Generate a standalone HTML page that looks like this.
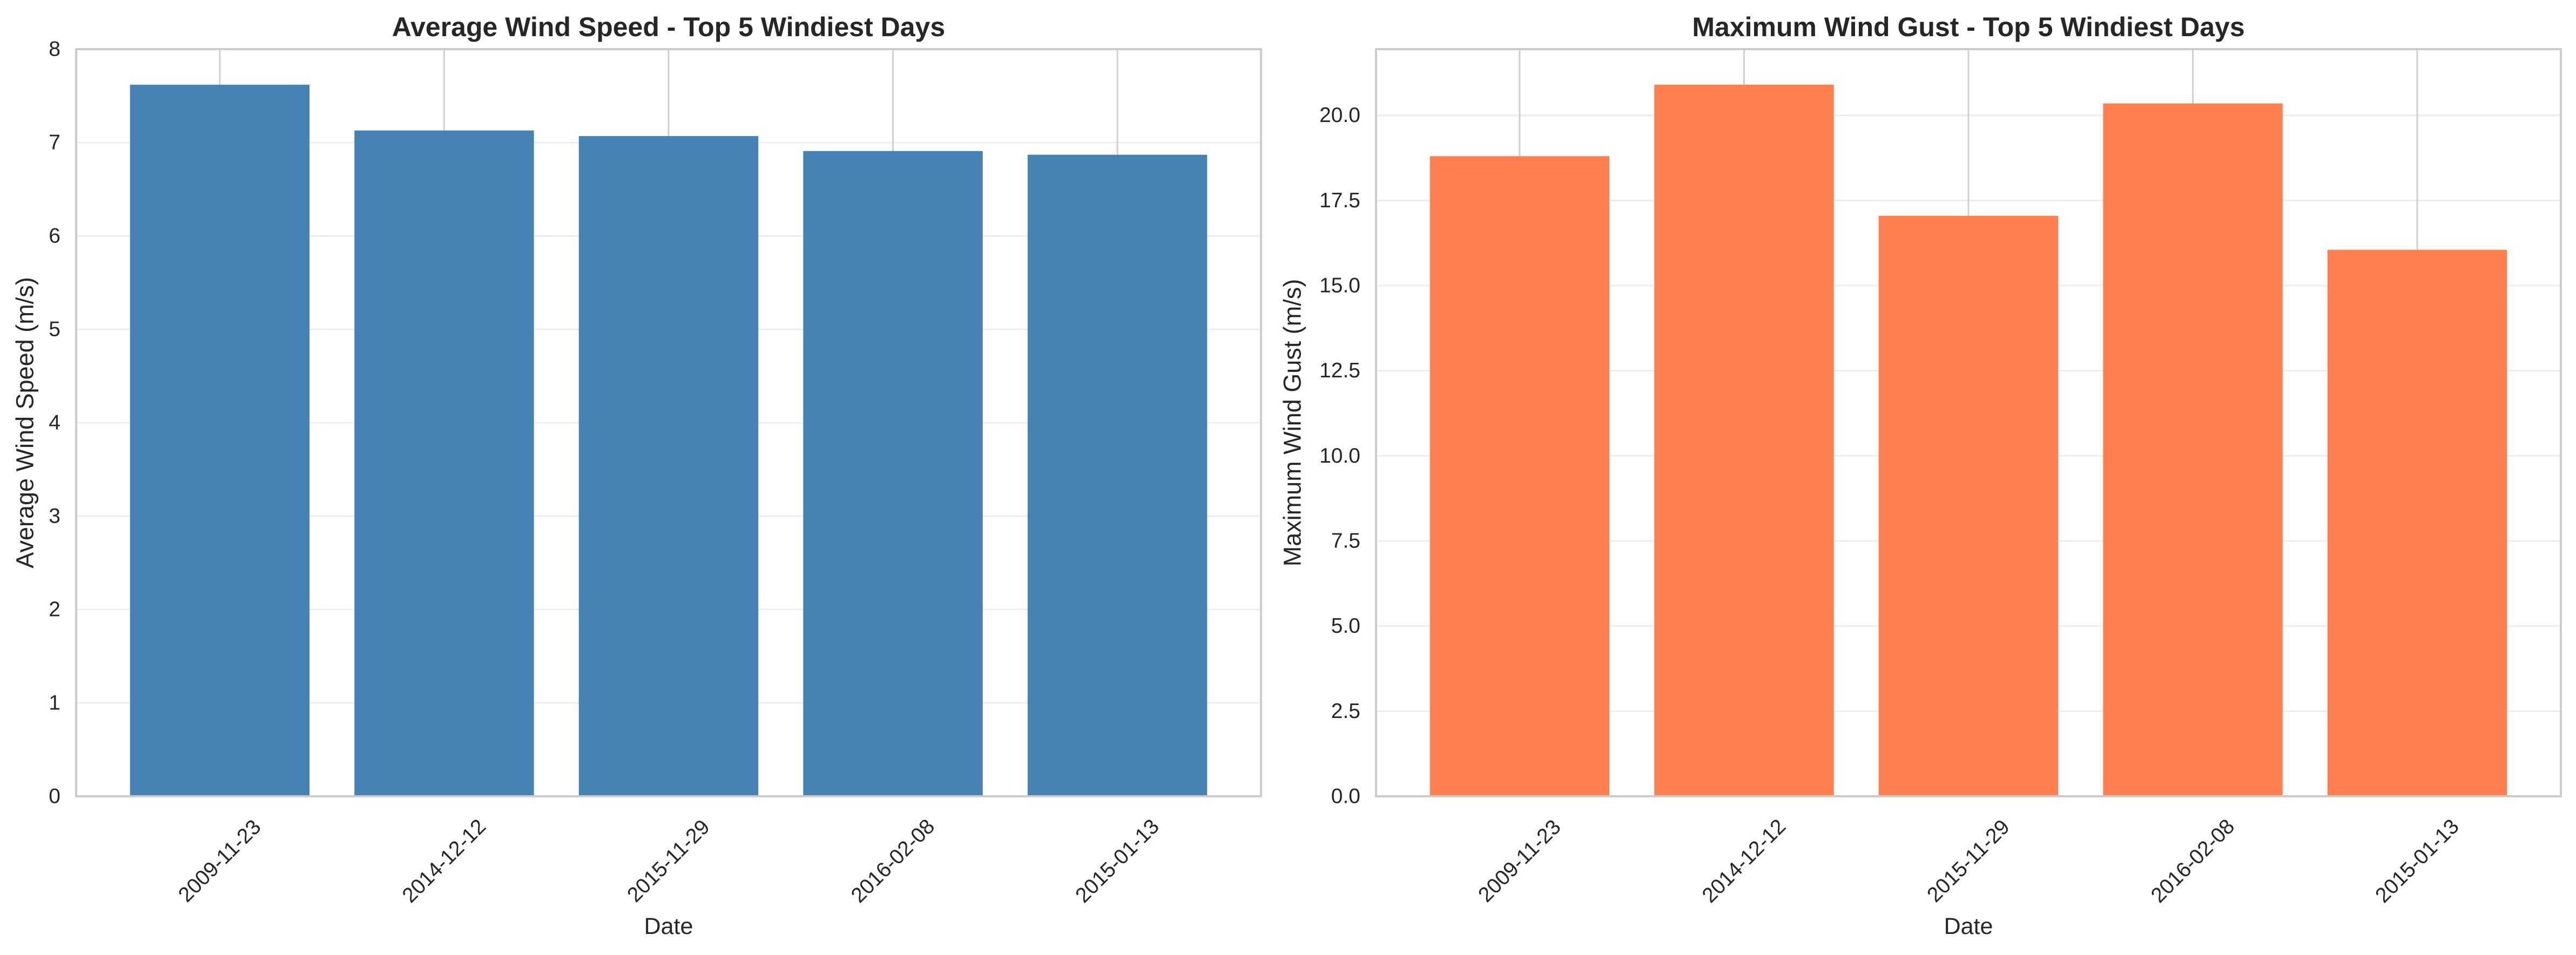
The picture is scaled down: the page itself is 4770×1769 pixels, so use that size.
<!DOCTYPE html>
<html><head><meta charset="utf-8"><style>
html,body{margin:0;padding:0;background:#fff;}
svg{display:block;font-family:"Liberation Sans",Arial,sans-serif;}
</style></head><body>
<svg id="chart" width="4770" height="1769" viewBox="0 0 4770 1769" xmlns="http://www.w3.org/2000/svg"></svg>
<script>
const categories = ["2009-11-23","2014-12-12","2015-11-29","2016-02-08","2015-01-13"];
const avgSpeed = [7.62, 7.13, 7.07, 6.91, 6.87];
const maxGust = [18.8, 20.9, 17.05, 20.35, 16.05];
const avgTicks = [0,1,2,3,4,5,6,7,8];
const gustTicks = [0,2.5,5,7.5,10,12.5,15,17.5,20];
const avgTickLabels = ["0","1","2","3","4","5","6","7","8"];
const gustTickLabels = ["0.0","2.5","5.0","7.5","10.0","12.5","15.0","17.5","20.0"];

const NS = "http://www.w3.org/2000/svg";
const svg = document.getElementById("chart");
function mk(tag, attrs, parent){
  const e = document.createElementNS(NS, tag);
  for (const k in attrs) e.setAttribute(k, attrs[k]);
  (parent||svg).appendChild(e);
  return e;
}
function panel(opt){
  const g = mk("g", {});
  
  
  const L = opt.left, R = opt.left + 2194, T = 91, B = 1475;
  const n = opt.values.length;
  const xmin = -0.64, xmax = n - 1 + 0.64;
  const xs = v => L + (v - xmin) / (xmax - xmin) * (R - L);
  const ymax = opt.ymax;
  const ys = v => B - v / ymax * (B - T);
  opt.ticks.forEach((t, i) => {
    const y = ys(t);
    const gl = mk("line", {x1:L, x2:R, y1:y, y2:y, stroke:"#ededed", "stroke-width":3}, g);
    
    
    const tl = mk("text", {x:L - 29, y:y, "text-anchor":"end", "dominant-baseline":"central", "font-size":39, fill:"#262626"}, g);
    tl.textContent = opt.tickLabels[i];
    
    
  });
  opt.cats.forEach((c, i) => {
    const x = xs(i);
    const vl = mk("line", {x1:x, x2:x, y1:T, y2:B, stroke:"#d0d0d0", "stroke-width":3}, g);
    
    
  });
  opt.values.forEach((v, i) => {
    const x0 = xs(i - 0.4), x1 = xs(i + 0.4);
    const b = mk("rect", {x:x0, y:ys(v), width:x1 - x0, height:B - ys(v), fill:opt.color}, g);
    
    
  });
  opt.cats.forEach((c, i) => {
    const cx = xs(i), cy = 1595;
    const t = mk("text", {x:cx, y:cy, "text-anchor":"middle", "dominant-baseline":"central", "font-size":39, fill:"#262626", transform:"rotate(-45 " + cx + " " + cy + ")"}, g);
    t.textContent = c;
    
    
  });
  const sp = mk("rect", {x:L, y:T, width:R - L, height:B - T, fill:"none", stroke:"#cccccc", "stroke-width":4}, g);
  
  
  const ti = mk("text", {x:(L + R) / 2, y:67, "text-anchor":"middle", "font-size":50, "font-weight":"bold", fill:"#262626"}, g);
  ti.textContent = opt.title;
  
  
  const xl = mk("text", {x:(L + R) / 2, y:1730, "text-anchor":"middle", "font-size":43, fill:"#262626"}, g);
  xl.textContent = "Date";
  
  
  const yx = opt.ylabelX, yy = (T + B) / 2;
  const yl = mk("text", {x:yx, y:yy, "text-anchor":"middle", "dominant-baseline":"central", "font-size":45, fill:"#262626", transform:"rotate(-90 " + yx + " " + yy + ")"}, g);
  yl.textContent = opt.ylabel;
  
  
}
panel({name:"avg-wind-speed-panel", left:141, values:avgSpeed, cats:categories, ticks:avgTicks, tickLabels:avgTickLabels,
  ymax:Math.max(...avgSpeed) * 1.05, color:"#4682b4", title:"Average Wind Speed - Top 5 Windiest Days",
  ylabel:"Average Wind Speed (m/s)", ylabelX:46});
panel({name:"max-wind-gust-panel", left:2548, values:maxGust, cats:categories, ticks:gustTicks, tickLabels:gustTickLabels,
  ymax:Math.max(...maxGust) * 1.05, color:"#ff7f50", title:"Maximum Wind Gust - Top 5 Windiest Days",
  ylabel:"Maximum Wind Gust (m/s)", ylabelX:2393});
</script>
</body></html>
